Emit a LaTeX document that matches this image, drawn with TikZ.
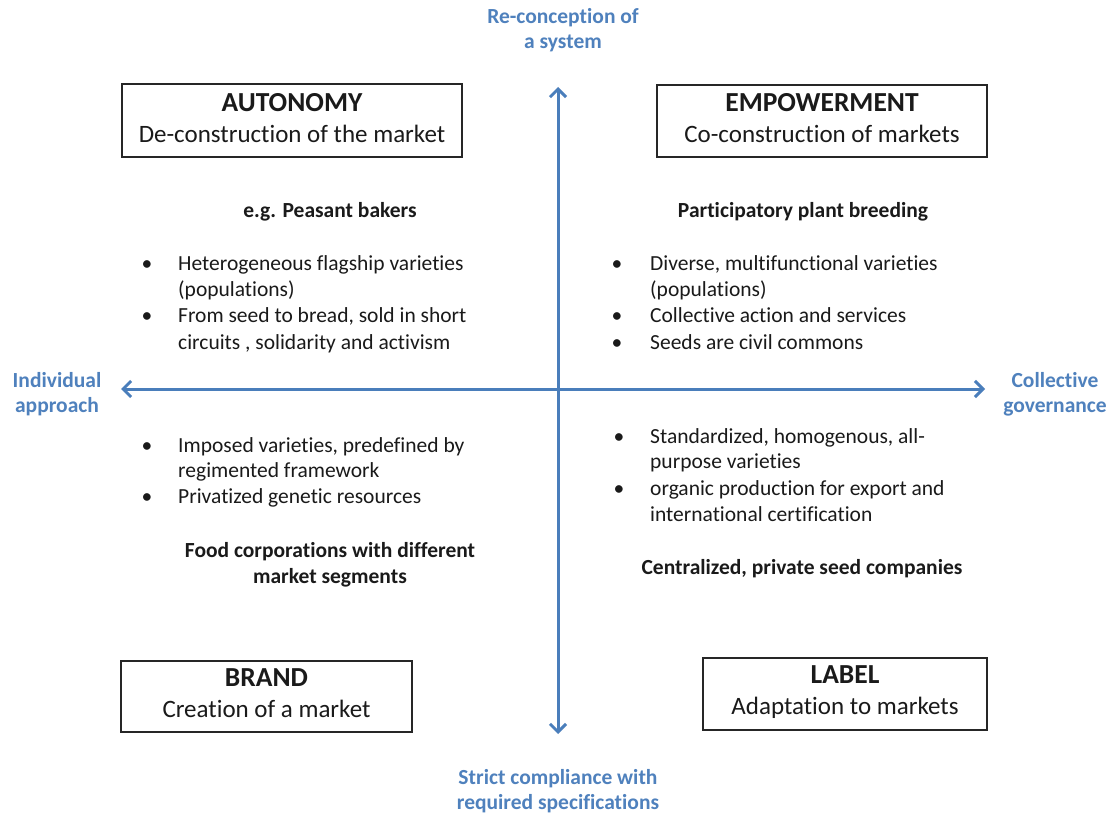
\documentclass[tikz,border=0pt]{standalone}
\usepackage{fontspec}
\setmainfont{Carlito}[Ligatures={NoCommon}]
\usetikzlibrary{arrows.meta}
\definecolor{axisblue}{HTML}{4A7EBB}
\definecolor{lblblue}{HTML}{4F81BD}
\definecolor{txtcol}{HTML}{1A1A1A}
\begin{document}
\begin{tikzpicture}[x=1pt,y=-1pt,
  txt/.style={anchor=base west,inner sep=0pt,font=\fontsize{21.5}{26}\selectfont,text=txtcol},
  bul/.style={anchor=base,inner sep=0pt,font=\fontsize{21.5}{26}\selectfont,text=txtcol},
  head/.style={anchor=base,inner sep=0pt,font=\fontsize{21.5}{26}\selectfont\bfseries,text=txtcol},
  axlbl/.style={anchor=base,inner sep=0pt,font=\fontsize{21.5}{26}\selectfont\bfseries,text=lblblue},
  qbox/.style={draw=black!85,line width=1.5pt,minimum height=72pt,inner sep=0pt},
  ttl/.style={anchor=base,inner sep=0pt,font=\fontsize{27.5}{32}\selectfont\bfseries,text=txtcol},
  sub/.style={anchor=base,inner sep=0pt,font=\fontsize{25}{30}\selectfont,text=txtcol},
  axisline/.style={draw=axisblue,line width=3pt,-{Straight Barb[length=8pt,width=16pt]}}
]
\useasboundingbox[fill=white] (0,0) rectangle (1112,813);

% axes
\coordinate (c) at (558,389);
\coordinate (atop) at (558,87);
\coordinate (abot) at (558,734);
\coordinate (aleft) at (121,389);
\coordinate (aright) at (985,389);
\draw[axisline] (c) -- (atop);
\draw[axisline] (c) -- (abot);
\draw[axisline] (c) -- (aleft);
\draw[axisline] (c) -- (aright);

% axis labels
\node[axlbl] (t1) at (563,24) {Re-conception of};
\node[axlbl] (t2) at (563,49) {a system};
\node[axlbl] (l1) at (57,387) {Individual};
\node[axlbl] (l2) at (57,412) {approach};
\node[axlbl] (r1) at (1055,387) {Collective};
\node[axlbl] (r2) at (1055,412) {governance};
\node[axlbl] (b1) at (558,784) {Strict compliance with};
\node[axlbl] (b2) at (558,809) {required specifications};

% boxes
\node[qbox,minimum width=340pt,minimum height=73pt] (aut) at (292,120.5) {};
\node[ttl] (autt) at ([yshift=-28pt]aut.north) {AUTONOMY};
\node[sub] (auts) at ([yshift=-59pt]aut.north) {De-construction of the market};

\node[qbox,minimum width=330pt] (emp) at (822,121) {};
\node[ttl] (empt) at ([yshift=-27pt]emp.north) {EMPOWERMENT};
\node[sub] (emps) at ([yshift=-58pt]emp.north) {Co-construction of markets};

\node[qbox,minimum width=291pt,minimum height=71pt] (brd) at (266.5,696.5) {};
\node[ttl] (brdt) at ([yshift=-26pt]brd.north) {BRAND};
\node[sub] (brds) at ([yshift=-57pt]brd.north) {Creation of a market};

\node[qbox,minimum width=284pt] (lab) at (845,694) {};
\node[ttl] (labt) at ([yshift=-26pt]lab.north) {LABEL};
\node[sub] (labs) at ([yshift=-57pt]lab.north) {Adaptation to markets};

% top-left quadrant
\node[head] (h1) at (330,218) {e.g. Peasant bakers};
\node[bul] (b11) at (147,271) {•};
\node[txt] (x11) at (178,271) {Heterogeneous flagship varieties};
\node[txt] (x12) at (178,297) {(populations)};
\node[bul] (b12) at (147,323) {•};
\node[txt] (x13) at (178,323) {From seed to bread, sold in short};
\node[txt] (x14) at (178,349) {circuits , solidarity and activism};

% top-right quadrant
\node[head] (h2) at (803,218) {Participatory plant breeding};
\node[bul] (b21) at (617,271) {•};
\node[txt] (x21) at (650,271) {Diverse, multifunctional varieties};
\node[txt] (x22) at (650,297) {(populations)};
\node[bul] (b22) at (617,323) {•};
\node[txt] (x23) at (650,323) {Collective action and services};
\node[bul] (b23) at (617,349) {•};
\node[txt] (x24) at (650,349) {Seeds are civil commons};

% bottom-left quadrant
\node[bul] (b31) at (147,452) {•};
\node[txt] (x31) at (178,452) {Imposed varieties, predefined by};
\node[txt] (x32) at (178,477) {regimented framework};
\node[bul] (b32) at (147,503) {•};
\node[txt] (x33) at (178,503) {Privatized genetic resources};
\node[head] (h3) at (330,557) {Food corporations with different};
\node[head] (h3b) at (330,583) {market segments};

% bottom-right quadrant
\node[bul] (b41) at (619,443) {•};
\node[txt] (x41) at (650,443) {Standardized, homogenous, all-};
\node[txt] (x42) at (650,468) {purpose varieties};
\node[bul] (b42) at (619,495) {•};
\node[txt] (x43) at (650,495) {organic production for export and};
\node[txt] (x44) at (650,521) {international certification};
\node[head] (h4) at (802,574) {Centralized, private seed companies};
\end{tikzpicture}
\end{document}
